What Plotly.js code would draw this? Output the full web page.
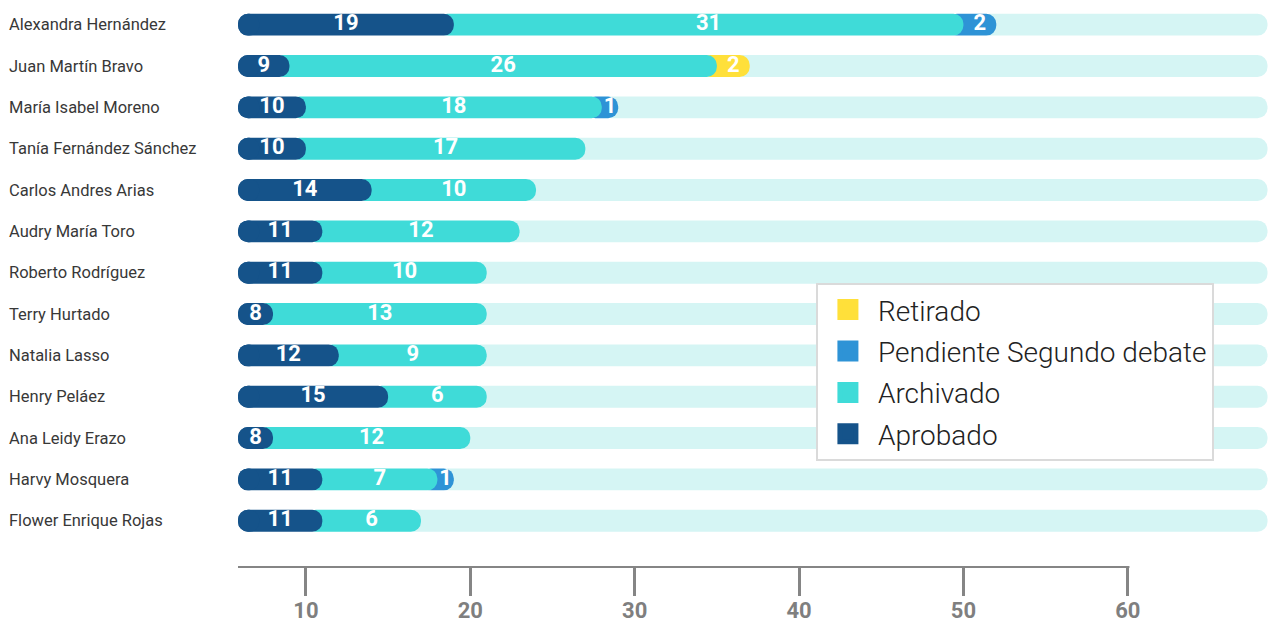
<!DOCTYPE html>
<html>
<head>
<meta charset="utf-8">
<script src="https://cdn.plot.ly/plotly-3.0.1.min.js"></script>
<style>
  html, body { margin: 0; padding: 0; background: #ffffff; }
  #chart { width: 1273px; height: 623px; }
</style>
</head>
<body>
<div id="chart"></div>
<script>
// ---- data ----
const names = [
  "Alexandra Hernández", "Juan Martín Bravo", "María Isabel Moreno",
  "Tanía Fernández Sánchez", "Carlos Andres Arias", "Audry María Toro",
  "Roberto Rodríguez", "Terry Hurtado", "Natalia Lasso", "Henry Peláez",
  "Ana Leidy Erazo", "Harvy Mosquera", "Flower Enrique Rojas"
];
const aprobado  = [19, 9, 10, 10, 14, 11, 11, 8, 12, 15, 8, 11, 11];
const archivado = [31, 26, 18, 17, 10, 12, 10, 13, 9, 6, 12, 7, 6];
const pendiente = [2, 0, 1, 0, 0, 0, 0, 0, 0, 0, 0, 1, 0];
const retirado  = [0, 2, 0, 0, 0, 0, 0, 0, 0, 0, 0, 0, 0];
const seriesNames = ["Aprobado", "Archivado", "Pendiente Segundo debate", "Retirado"];
const tickValues = [10, 20, 30, 40, 50, 60];

// ---- styling / layout constants ----
const colors = {
  "Aprobado": "#15538a",
  "Archivado": "#3fdbd8",
  "Pendiente Segundo debate": "#2e93d6",
  "Retirado": "#ffe03a",
  track: "#d5f5f4"
};
const xStart = 5.87;   // left edge of the axis range
const xEnd = 68.65;    // right edge of the axis range
const trackEnd = 68.5; // end of the light background track
const tuck = 1;        // how far each segment tucks under the previous rounded end
const capLen = 1.3;    // length of the left cap piece
const barW = 0.53;

const seriesVals = [aprobado, archivado, pendiente, retirado];
const cum = [];
for (let k = 0; k < seriesVals.length; k++) {
  cum.push(names.map((_, i) => (k === 0 ? 0 : cum[k - 1][i]) + seriesVals[k][i]));
}
const totals = cum[cum.length - 1];

const traces = [];
// background track
traces.push({
  type: "bar", orientation: "h", y: names,
  base: totals.map(t => t - tuck),
  x: totals.map(t => trackEnd - (t - tuck)),
  width: barW,
  marker: { color: colors.track, cornerradius: "50%" },
  showlegend: false, hoverinfo: "skip"
});
// later segments first so earlier segments sit on top
for (let k = seriesVals.length - 1; k >= 1; k--) {
  const nm = seriesNames[k];
  const base = [], len = [];
  names.forEach((_, i) => {
    const v = seriesVals[k][i];
    if (v > 0) {
      const b = cum[k - 1][i] - tuck;
      base.push(b); len.push(cum[k][i] - b);
    } else { base.push(null); len.push(null); }
  });
  traces.push({
    type: "bar", orientation: "h", y: names, base: base, x: len,
    width: barW, customdata: seriesVals[k],
    marker: { color: colors[nm], cornerradius: "50%" },
    name: nm, legendgroup: nm, showlegend: false,
    hovertemplate: "%{y}: %{customdata}<extra>" + nm + "</extra>"
  });
}
// first series: main piece plus a left cap so that the left end is rounded
traces.push({
  type: "bar", orientation: "h", y: names,
  base: names.map(() => xStart), x: aprobado.map(v => v - xStart),
  width: barW, customdata: aprobado,
  marker: { color: colors["Aprobado"], cornerradius: "50%" },
  name: "Aprobado", legendgroup: "Aprobado", showlegend: false,
  hovertemplate: "%{y}: %{customdata}<extra>Aprobado</extra>"
});
traces.push({
  type: "bar", orientation: "h", y: names,
  base: names.map(() => xStart + capLen), x: names.map(() => -capLen),
  width: barW,
  marker: { color: colors["Aprobado"], cornerradius: "50%" },
  name: "Aprobado", legendgroup: "Aprobado", showlegend: false,
  hoverinfo: "skip"
});

// value labels
const lx = [], ly = [], lt = [];
for (let k = 0; k < seriesVals.length; k++) {
  names.forEach((n, i) => {
    const v = seriesVals[k][i];
    if (v > 0) {
      const s = k === 0 ? xStart : cum[k - 1][i];
      lx.push((s + cum[k][i]) / 2); ly.push(n); lt.push(String(v));
    }
  });
}
traces.push({
  type: "scatter", mode: "text", x: lx, y: ly, text: lt,
  textposition: "middle center",
  textfont: { family: "Roboto, sans-serif", size: 22, color: "#ffffff", weight: 700 },
  showlegend: false, hoverinfo: "skip", cliponaxis: false
});

// legend entries
["Retirado", "Pendiente Segundo debate", "Archivado", "Aprobado"].forEach(nm => {
  traces.push({
    type: "scatter", mode: "markers", x: [null], y: [null],
    name: nm, legendgroup: nm,
    marker: { symbol: "square", size: 16, color: colors[nm], line: { color: colors[nm], width: 5 } },
    hoverinfo: "skip"
  });
});

// name labels on the left
const annotations = names.map(n => ({
  xref: "paper", yref: "y", x: 0, y: n, xshift: -231, yshift: 0,
  xanchor: "left", yanchor: "middle", showarrow: false, text: n,
  font: { family: "Roboto, sans-serif", size: 16.5, color: "#383838" }
}));

const layout = {
  width: 1273, height: 623,
  margin: { l: 238, r: 3, t: 4, b: 56 },
  paper_bgcolor: "#ffffff", plot_bgcolor: "#ffffff",
  barmode: "overlay",
  showlegend: true,
  legend: {
    x: 0.56, y: 0.5046, xanchor: "left", yanchor: "top",
    bgcolor: "#ffffff", bordercolor: "#dadada", borderwidth: 2,
    font: { family: "Roboto, sans-serif", size: 28, color: "#222222", weight: 300 },
    traceorder: "grouped", tracegroupgap: 2, itemwidth: 50
  },
  xaxis: {
    range: [xStart, xEnd], tickvals: tickValues,
    ticks: "outside", ticklen: 28, tickwidth: 3, tickcolor: "#858585",
    ticklabelstandoff: -4,
    tickfont: { family: "Roboto, sans-serif", size: 22, color: "#7f7f7f", weight: 700 },
    showgrid: false, zeroline: false, showline: false, fixedrange: true
  },
  yaxis: {
    type: "category", categoryorder: "array", categoryarray: names,
    range: [13.12, -0.5], showticklabels: false, showgrid: false,
    zeroline: false, showline: false, ticks: "", fixedrange: true
  },
  shapes: [{
    type: "line", xref: "x", yref: "paper", x0: xStart, x1: 60.1, y0: 0, y1: 0,
    line: { color: "#858585", width: 2 }, layer: "below"
  }],
  annotations: annotations
};

Plotly.newPlot("chart", traces, layout, { displayModeBar: false, responsive: false });
</script>
</body>
</html>
